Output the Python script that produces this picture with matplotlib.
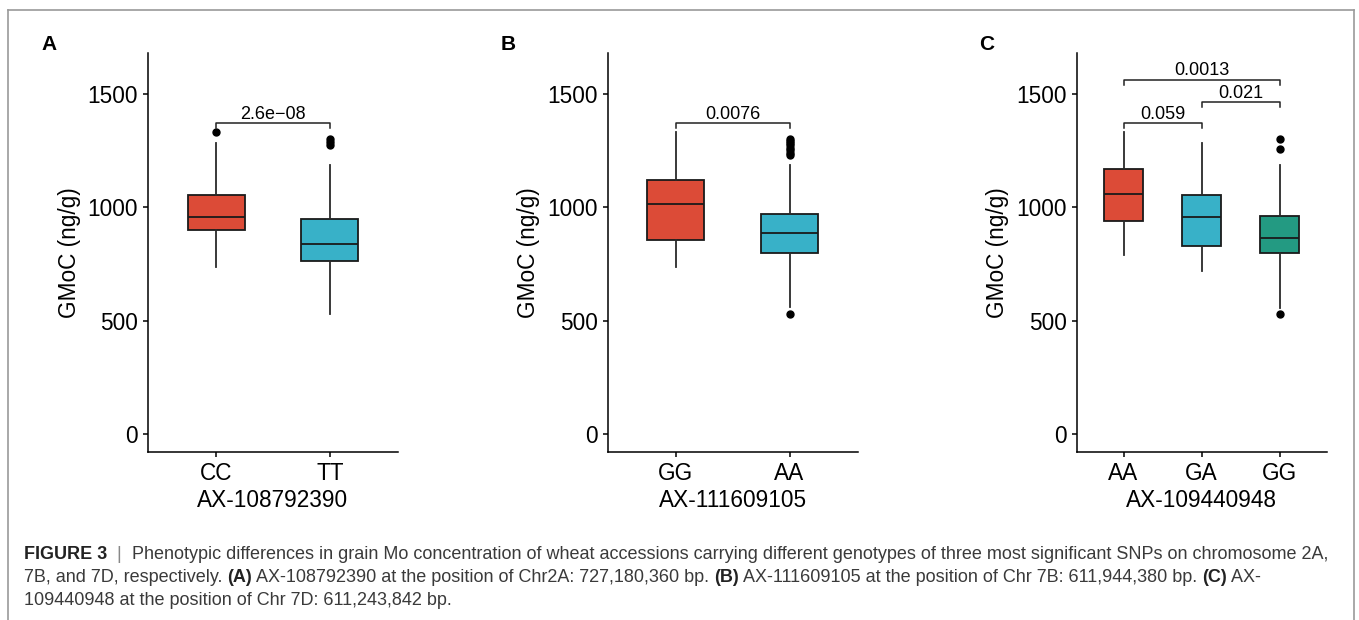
import matplotlib
matplotlib.use("Agg")
import matplotlib.pyplot as plt
from matplotlib.lines import Line2D

plt.rcParams['font.family'] = ['Liberation Sans', 'DejaVu Sans']

# ---- data (GMoC, ng/g) ----
a_groups = ["CC", "TT"]
a_q1 = [899, 762]
a_med = [957, 838]
a_q3 = [1055, 949]
a_lo = [734, 530]
a_hi = [1282, 1187]
a_fliers = [[1330], [1300, 1286, 1272]]
a_pairs = [(0, 1)]
a_pvals = ["2.6e\u221208"]
a_bracket = [1371]
a_snp = "AX-108792390"

b_groups = ["GG", "AA"]
b_q1 = [857, 800]
b_med = [1012, 888]
b_q3 = [1119, 968]
b_lo = [734, 559]
b_hi = [1330, 1184]
b_fliers = [[], [1302, 1292, 1283, 1274, 1263, 1251, 1240, 1229, 528]]
b_pairs = [(0, 1)]
b_pvals = ["0.0076"]
b_bracket = [1371]
b_snp = "AX-111609105"

c_groups = ["AA", "GA", "GG"]
c_q1 = [937, 830, 797]
c_med = [1060, 956, 862]
c_q3 = [1169, 1052, 959]
c_lo = [787, 719, 555]
c_hi = [1330, 1283, 1184]
c_fliers = [[], [], [1300, 1256, 528]]
c_pairs = [(0, 1), (1, 2), (0, 2)]
c_pvals = ["0.059", "0.021", "0.0013"]
c_bracket = [1371, 1464, 1563]
c_snp = "AX-109440948"

fill = ["#DC4B37", "#38B1C8", "#239A82"]

caption = [
    [("FIGURE 3", True, "#222222"), ("  |  ", False, "#888888"),
     ("Phenotypic differences in grain Mo concentration of wheat accessions carrying different "
      "genotypes of three most significant SNPs on chromosome 2A,", False, "#3a3a3a")],
    [("7B, and 7D, respectively. ", False, "#3a3a3a"), ("(A)", True, "#222222"),
     (" AX-108792390 at the position of Chr2A: 727,180,360 bp. ", False, "#3a3a3a"),
     ("(B)", True, "#222222"),
     (" AX-111609105 at the position of Chr 7B: 611,944,380 bp. ", False, "#3a3a3a"),
     ("(C)", True, "#222222"), (" AX-", False, "#3a3a3a")],
    [("109440948 at the position of Chr 7D: 611,243,842 bp.", False, "#3a3a3a")],
]

W, H = 1359, 620
fig = plt.figure(figsize=(W / 100, H / 100), dpi=100)


def px_axes(left, top, right, bottom):
    return fig.add_axes([left / W, 1 - bottom / H, (right - left) / W, (bottom - top) / H])


def draw_panel(ax, groups, q1, med, q3, lo, hi, fliers, pairs, pvals, bracket, snp):
    stats = []
    for i in range(len(groups)):
        stats.append(dict(med=med[i], q1=q1[i], q3=q3[i], whislo=lo[i],
                          whishi=hi[i], fliers=fliers[i]))
    pos = list(range(1, len(groups) + 1))
    bp = ax.bxp(stats, positions=pos, widths=0.5, patch_artist=True, showcaps=False,
                boxprops=dict(edgecolor="#1a1a1a", linewidth=1.3),
                medianprops=dict(color="#1a1a1a", linewidth=1.3),
                whiskerprops=dict(color="#2a2a2a", linewidth=1.3),
                flierprops=dict(marker="o", markerfacecolor="black",
                                markeredgecolor="black", markersize=5))
    for patch, c in zip(bp["boxes"], fill):
        patch.set_facecolor(c)

    ax.set_xlim(0.4, len(groups) + 0.6)
    ax.set_ylim(-80, 1680)
    ax.set_yticks([0, 500, 1000, 1500])
    ax.set_xticks(pos)
    ax.set_xticklabels(groups)
    for s in ["top", "right"]:
        ax.spines[s].set_visible(False)
    for s in ["left", "bottom"]:
        ax.spines[s].set_linewidth(1.1)
    ax.tick_params(length=3.6, width=1.1, labelsize=16.3, pad=3.5, colors="black")
    ax.set_ylabel("GMoC (ng/g)", fontsize=16.3, labelpad=5)
    ax.set_xlabel(snp, fontsize=16.3, labelpad=3)

    tip = 22
    for (i, j), p, y in zip(pairs, pvals, bracket):
        ax.plot([i + 1, i + 1, j + 1, j + 1], [y - tip, y, y, y - tip],
                color="#222222", lw=1.1, clip_on=False)
        ax.text((i + j) / 2 + 1, y + 2, p, ha="center", va="bottom", fontsize=13)


ax_a = px_axes(148, 53, 398, 452)
ax_b = px_axes(607.7, 53, 857.7, 452)
ax_c = px_axes(1076.7, 53, 1326.7, 452)
draw_panel(ax_a, a_groups, a_q1, a_med, a_q3, a_lo, a_hi, a_fliers, a_pairs, a_pvals, a_bracket, a_snp)
draw_panel(ax_b, b_groups, b_q1, b_med, b_q3, b_lo, b_hi, b_fliers, b_pairs, b_pvals, b_bracket, b_snp)
draw_panel(ax_c, c_groups, c_q1, c_med, c_q3, c_lo, c_hi, c_fliers, c_pairs, c_pvals, c_bracket, c_snp)

for letter, x in zip(["A", "B", "C"], [41.5, 501, 979]):
    fig.text(x / W, 1 - 44 / H, letter, fontsize=15, fontweight="bold", ha="left", va="center")

# outer frame (open at the bottom)
frame = dict(color="#9a9a9a", lw=1.2, transform=fig.transFigure)
x0, x1, y0 = 8 / W, 1354 / W, 1 - 10 / H
fig.add_artist(Line2D([x0, x1], [y0, y0], **frame))
fig.add_artist(Line2D([x0, x0], [0, y0], **frame))
fig.add_artist(Line2D([x1, x1], [0, y0], **frame))

# caption, built piece by piece so the bold parts sit inline
renderer = fig.canvas.get_renderer()


def put_line(x_px, base_px, parts, size, keep=True):
    x = x_px
    made = []
    for txt, bold, col in parts:
        t = fig.text(x / W, 1 - base_px / H, txt, fontsize=size, color=col,
                     fontweight="bold" if bold else "normal", ha="left", va="baseline")
        x += t.get_window_extent(renderer).width
        made.append(t)
    if not keep:
        for t in made:
            t.remove()
    return x - x_px


cap_left, cap_right = 24, 1332
w10 = put_line(cap_left, 559, caption[0], 10, keep=False)
cap_size = 10 * (cap_right - cap_left) / w10
for base, parts in zip([559, 582, 605], caption):
    put_line(cap_left, base, parts, cap_size)

fig.savefig("out.png", dpi=100)
